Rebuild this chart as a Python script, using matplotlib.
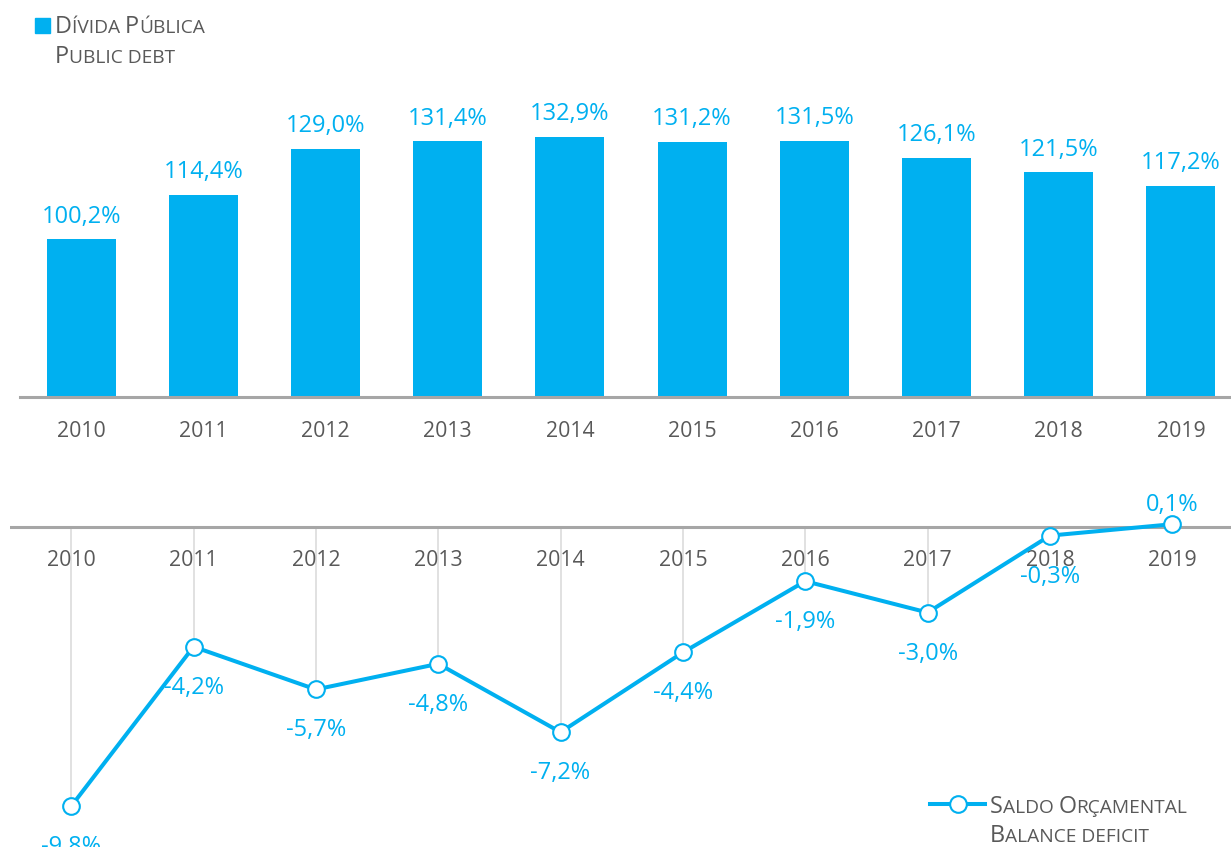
import matplotlib.pyplot as plt
from matplotlib.lines import Line2D
import numpy as np

plt.rcParams['font.family'] = ['Open Sans', 'DejaVu Sans']

# data
years = ["2010", "2011", "2012", "2013", "2014", "2015", "2016", "2017", "2018", "2019"]
debt = [100.2, 114.4, 129.0, 131.4, 132.9, 131.2, 131.5, 126.1, 121.5, 117.2]
balance = [-9.8, -4.2, -5.7, -4.8, -7.2, -4.4, -1.9, -3.0, -0.3, 0.1]

BLUE = "#00B0F0"
GREY_TXT = "#595959"
AXIS = "#A6A6A6"
DROP = "#D9D9D9"

W, H = 1231, 847
fig = plt.figure(figsize=(W / 100, H / 100), dpi=100)


def box(l, t, r, b):
    """axes rect from pixel coords measured from the top-left corner"""
    return [l / W, 1 - b / H, (r - l) / W, (b - t) / H]


def pct(v):
    return f"{v:.1f}%".replace(".", ",")


def small_caps(pieces, x0, y0, big=16.8, small=13.8):
    """fake small caps: draw pieces one after the other on a shared baseline"""
    renderer = fig.canvas.get_renderer()
    x = x0
    for txt, is_big in pieces:
        t = fig.text(x / W, 1 - y0 / H, txt, fontsize=big if is_big else small,
                     color=GREY_TXT, va="baseline", ha="left")
        x += t.get_window_extent(renderer).width


x = np.arange(len(years))

# --- public debt bars
ax1 = fig.add_axes(box(20, 83, 1231, 397))
ax1.bar(x, debt, width=0.565, color=BLUE, zorder=2)
ax1.set_xlim(-0.5, 9.41)
ax1.set_ylim(50, 150)
for s in ["top", "right", "left"]:
    ax1.spines[s].set_visible(False)
ax1.spines["bottom"].set_color(AXIS)
ax1.spines["bottom"].set_linewidth(2.2)
ax1.spines["bottom"].set_zorder(3)
ax1.set_yticks([])
ax1.set_xticks(x, years)
ax1.tick_params(axis="x", length=0, pad=17, labelsize=15.3, labelcolor=GREY_TXT)
for xi, v in zip(x, debt):
    ax1.annotate(pct(v), (xi, v), xytext=(0, 12), textcoords="offset points",
                 ha="center", va="baseline", fontsize=17, color=BLUE)

# --- balance line
ax2 = fig.add_axes(box(10, 500, 1231, 847))
ax2.set_xlim(-0.5, 9.48)
ax2.set_ylim(-11.23, 0.95)
ax2.axis("off")
ax2.axhline(0, color=AXIS, lw=2.2, zorder=2)
ax2.vlines(x, 0, balance, color=DROP, lw=1.1, zorder=1)
ax2.plot(x, balance, color=BLUE, lw=2.9, marker="o", ms=12, mfc="white",
         mec=BLUE, mew=1.5, zorder=4, clip_on=False)
for xi, yr in zip(x, years):
    ax2.annotate(yr, (xi, 0), xytext=(0, -24), textcoords="offset points",
                 ha="center", va="center", fontsize=15.3, color=GREY_TXT, zorder=3)
for xi, v in zip(x, balance):
    dy = 14 if v > 0 else -29.5
    ax2.annotate(pct(v), (xi, v), xytext=(0, dy), textcoords="offset points",
                 ha="center", va="center", fontsize=17, color=BLUE, zorder=5,
                 annotation_clip=False)

# --- legends
fig.add_artist(plt.Rectangle((35 / W, 1 - 33 / H), 15 / W, 15 / H,
                             transform=fig.transFigure, color=BLUE))
small_caps([("D", 1), ("ÍVIDA ", 0), ("P", 1), ("ÚBLICA", 0)], 55, 33)
small_caps([("P", 1), ("UBLIC DEBT", 0)], 55, 63)

ly = 1 - 804 / H
fig.add_artist(Line2D([930 / W, 985 / W], [ly, ly], color=BLUE, lw=2.9,
                      transform=fig.transFigure))
fig.add_artist(Line2D([958 / W], [ly], marker="o", ms=12, mfc="white", mec=BLUE,
                      mew=1.5, transform=fig.transFigure))
small_caps([("S", 1), ("ALDO ", 0), ("O", 1), ("RÇAMENTAL", 0)], 990, 813)
small_caps([("B", 1), ("ALANCE DEFICIT", 0)], 990, 842)

fig.savefig("out.png", dpi=100)
